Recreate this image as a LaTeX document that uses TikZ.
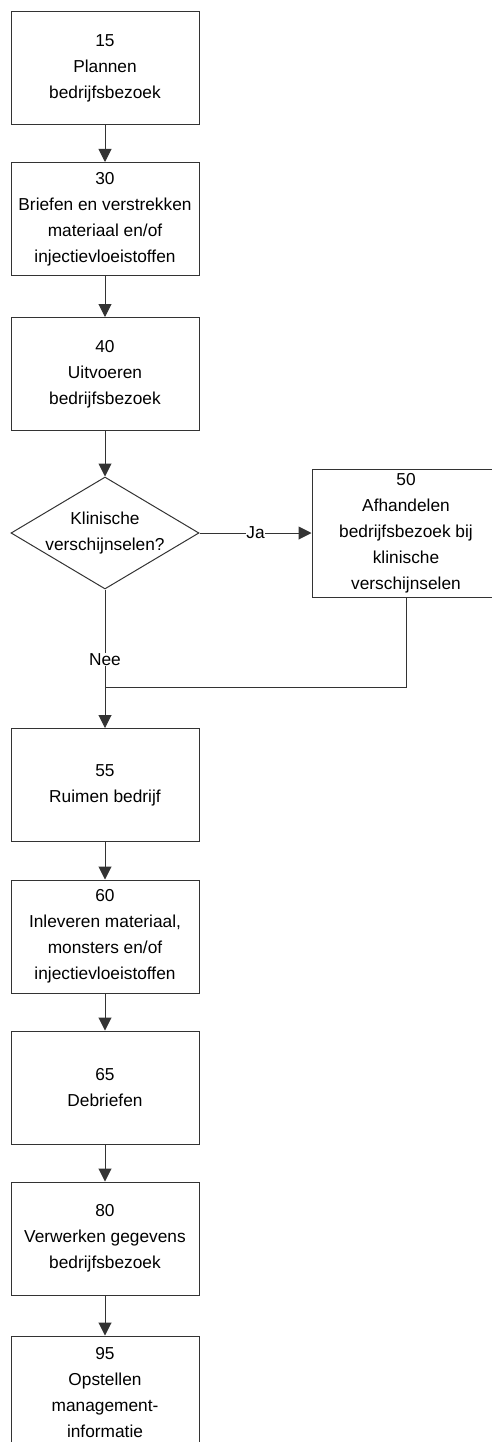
\documentclass[tikz,border=0pt]{standalone}
\usepackage{fontspec}
\setmainfont{Liberation Sans}
\usetikzlibrary{shapes.geometric,arrows.meta}
\begin{document}
\begin{tikzpicture}[x=1pt,y=-1pt,
  every node/.style={font=\fontsize{17.3}{26}\selectfont},
  box/.style={draw=black!80,line width=1pt,rectangle,minimum width=188pt,minimum height=113pt,inner sep=0pt,align=center},
  dec/.style={draw=black!80,line width=1pt,diamond,minimum width=188pt,minimum height=112pt,inner sep=0pt},
  arr/.style={draw=black!80,line width=1pt,-{Triangle[length=13pt,width=13pt]}},
  ln/.style={draw=black!80,line width=1pt},
  lbl/.style={fill=white,inner sep=0.5pt}]
\useasboundingbox (0,0) rectangle (492,1442);
\node[box] (b15) at (105,68.5) {15\\Plannen\\bedrijfsbezoek};
\node[box] (b30) at (105,219) {30\\Briefen en verstrekken\\materiaal en/of\\injectievloeistoffen};
\node[box] (b40) at (105,374) {40\\Uitvoeren\\bedrijfsbezoek};
\node[dec] (d) at (105,533) {};
\node[align=center] (dt) at (105,533) {Klinische\\verschijnselen?};
\node[box,minimum height=128pt] (b50) at (406,533) {50\\Afhandelen\\bedrijfsbezoek bij\\klinische\\verschijnselen};
\node[box] (b55) at (105,785) {55\\Ruimen bedrijf};
\node[box] (b60) at (105,936.5) {60\\Inleveren materiaal,\\monsters en/of\\injectievloeistoffen};
\node[box] (b65) at (105,1087.5) {65\\Debriefen};
\node[box] (b80) at (105,1238.5) {80\\Verwerken gegevens\\bedrijfsbezoek};
\node[box] (b95) at (105,1392.5) {95\\Opstellen\\management-\\informatie};
\coordinate (j) at (105,687);
\draw[arr] (b15) -- (b30);
\draw[arr] (b30) -- (b40);
\draw[arr] (b40) -- (d);
\draw[arr] (d.east) -- node[lbl] {Ja} (b50.west);
\draw[arr] (d.south) -- node[lbl,pos=0.504] {Nee} (b55.north);
\draw[ln] (b50.south) |- (j);
\draw[arr] (b55) -- (b60);
\draw[arr] (b60) -- (b65);
\draw[arr] (b65) -- (b80);
\draw[arr] (b80) -- (b95);
\end{tikzpicture}
\end{document}
